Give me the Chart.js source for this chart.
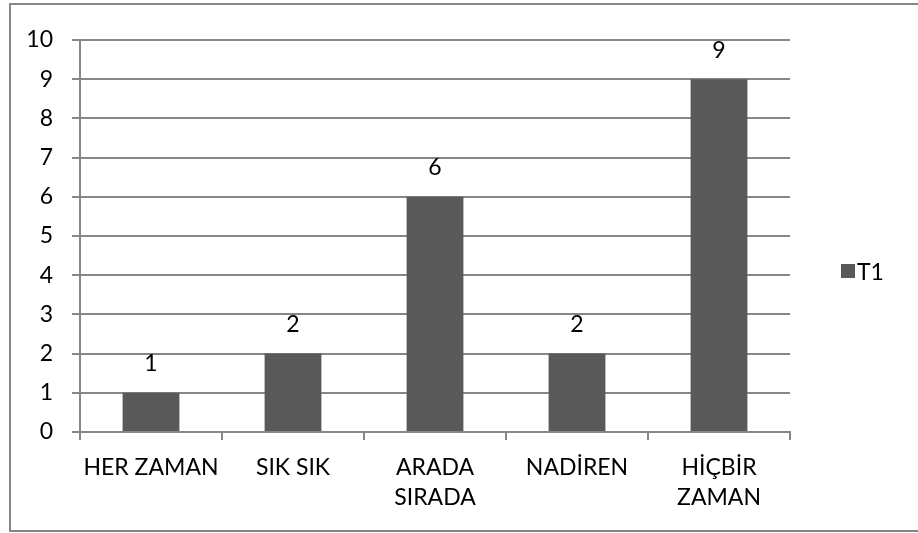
<!DOCTYPE html>
<html>
<head>
<meta charset="utf-8">
<script src="https://cdn.jsdelivr.net/npm/chart.js@4.4.1/dist/chart.umd.min.js"></script>
<style>
    body { margin: 0; background: #fff; }
    #wrap { position: relative; width: 918px; height: 533px; }
    #legend { position: absolute; left: 841px; top: 257px; font: 23px Lato, sans-serif; color: #000; display: flex; align-items: center; }
    #legend span.box { display: inline-block; width: 14px; height: 14px; background: #595959; margin-right: 2px; }
</style>
</head>
<body>
<div id="wrap">
    <canvas id="grafico" width="918" height="533"></canvas>
    <div id="legend"></div>
</div>
<script>
// dados
const categorias = ['HER ZAMAN', 'SIK SIK', ['ARADA', 'SIRADA'], 'NADİREN', ['HİÇBİR', 'ZAMAN']];
const valoresT1 = [1, 2, 6, 2, 9];
const nomeSerie = 'T1';
const corBarra = '#595959';
const corGrade = '#868686';

// moldura externa
const molduraPlugin = {
    id: 'moldura',
    beforeDraw(chart) {
        const ctx = chart.ctx;
        ctx.save();
        ctx.strokeStyle = corGrade;
        ctx.lineWidth = 2;
        ctx.strokeRect(10, 4, 920, 527);
        ctx.restore();
    }
};

// rótulos acima das barras
const rotulosPlugin = {
    id: 'rotulos',
    afterDatasetsDraw(chart) {
        const ctx = chart.ctx;
        const meta = chart.getDatasetMeta(0);
        ctx.save();
        ctx.font = '23px Lato, sans-serif';
        ctx.fillStyle = '#000';
        ctx.textAlign = 'center';
        ctx.textBaseline = 'middle';
        meta.data.forEach(function (bar, i) {
            ctx.fillText(chart.data.datasets[0].data[i], bar.x, bar.y - 29);
        });
        ctx.restore();
    }
};

const ctx = document.getElementById('grafico').getContext('2d');
const grafico = new Chart(ctx, {
    type: 'bar',
    data: {
        labels: categorias,
        datasets: [{
            label: nomeSerie,
            data: valoresT1,
            backgroundColor: corBarra,
            borderWidth: 0,
            categoryPercentage: 1,
            barPercentage: 0.4
        }]
    },
    options: {
        responsive: false,
        animation: false,
        layout: {
            padding: { left: 0, top: 40, right: 128, bottom: 0 }
        },
        plugins: {
            legend: { display: false },
            tooltip: { enabled: false }
        },
        scales: {
            y: {
                min: 0,
                max: 10,
                ticks: {
                    stepSize: 1,
                    color: '#000',
                    padding: 19,
                    font: { family: 'Lato', size: 23 }
                },
                grid: { color: corGrade, lineWidth: 2, tickLength: 8 },
                border: { color: corGrade, width: 2 },
                afterFit: function (scale) { scale.width = 80; }
            },
            x: {
                ticks: {
                    color: '#000',
                    padding: 13,
                    maxRotation: 0,
                    autoSkip: false,
                    font: { family: 'Lato', size: 23, lineHeight: 1.3 }
                },
                grid: { offset: true, drawOnChartArea: false, color: corGrade, lineWidth: 2, tickLength: 8 },
                border: { color: corGrade, width: 2 },
                afterFit: function (scale) { scale.height = 101; }
            }
        }
    },
    plugins: [molduraPlugin, rotulosPlugin]
});

// legenda
document.getElementById('legend').innerHTML = '<span class="box"></span>' + nomeSerie;
</script>
</body>
</html>
